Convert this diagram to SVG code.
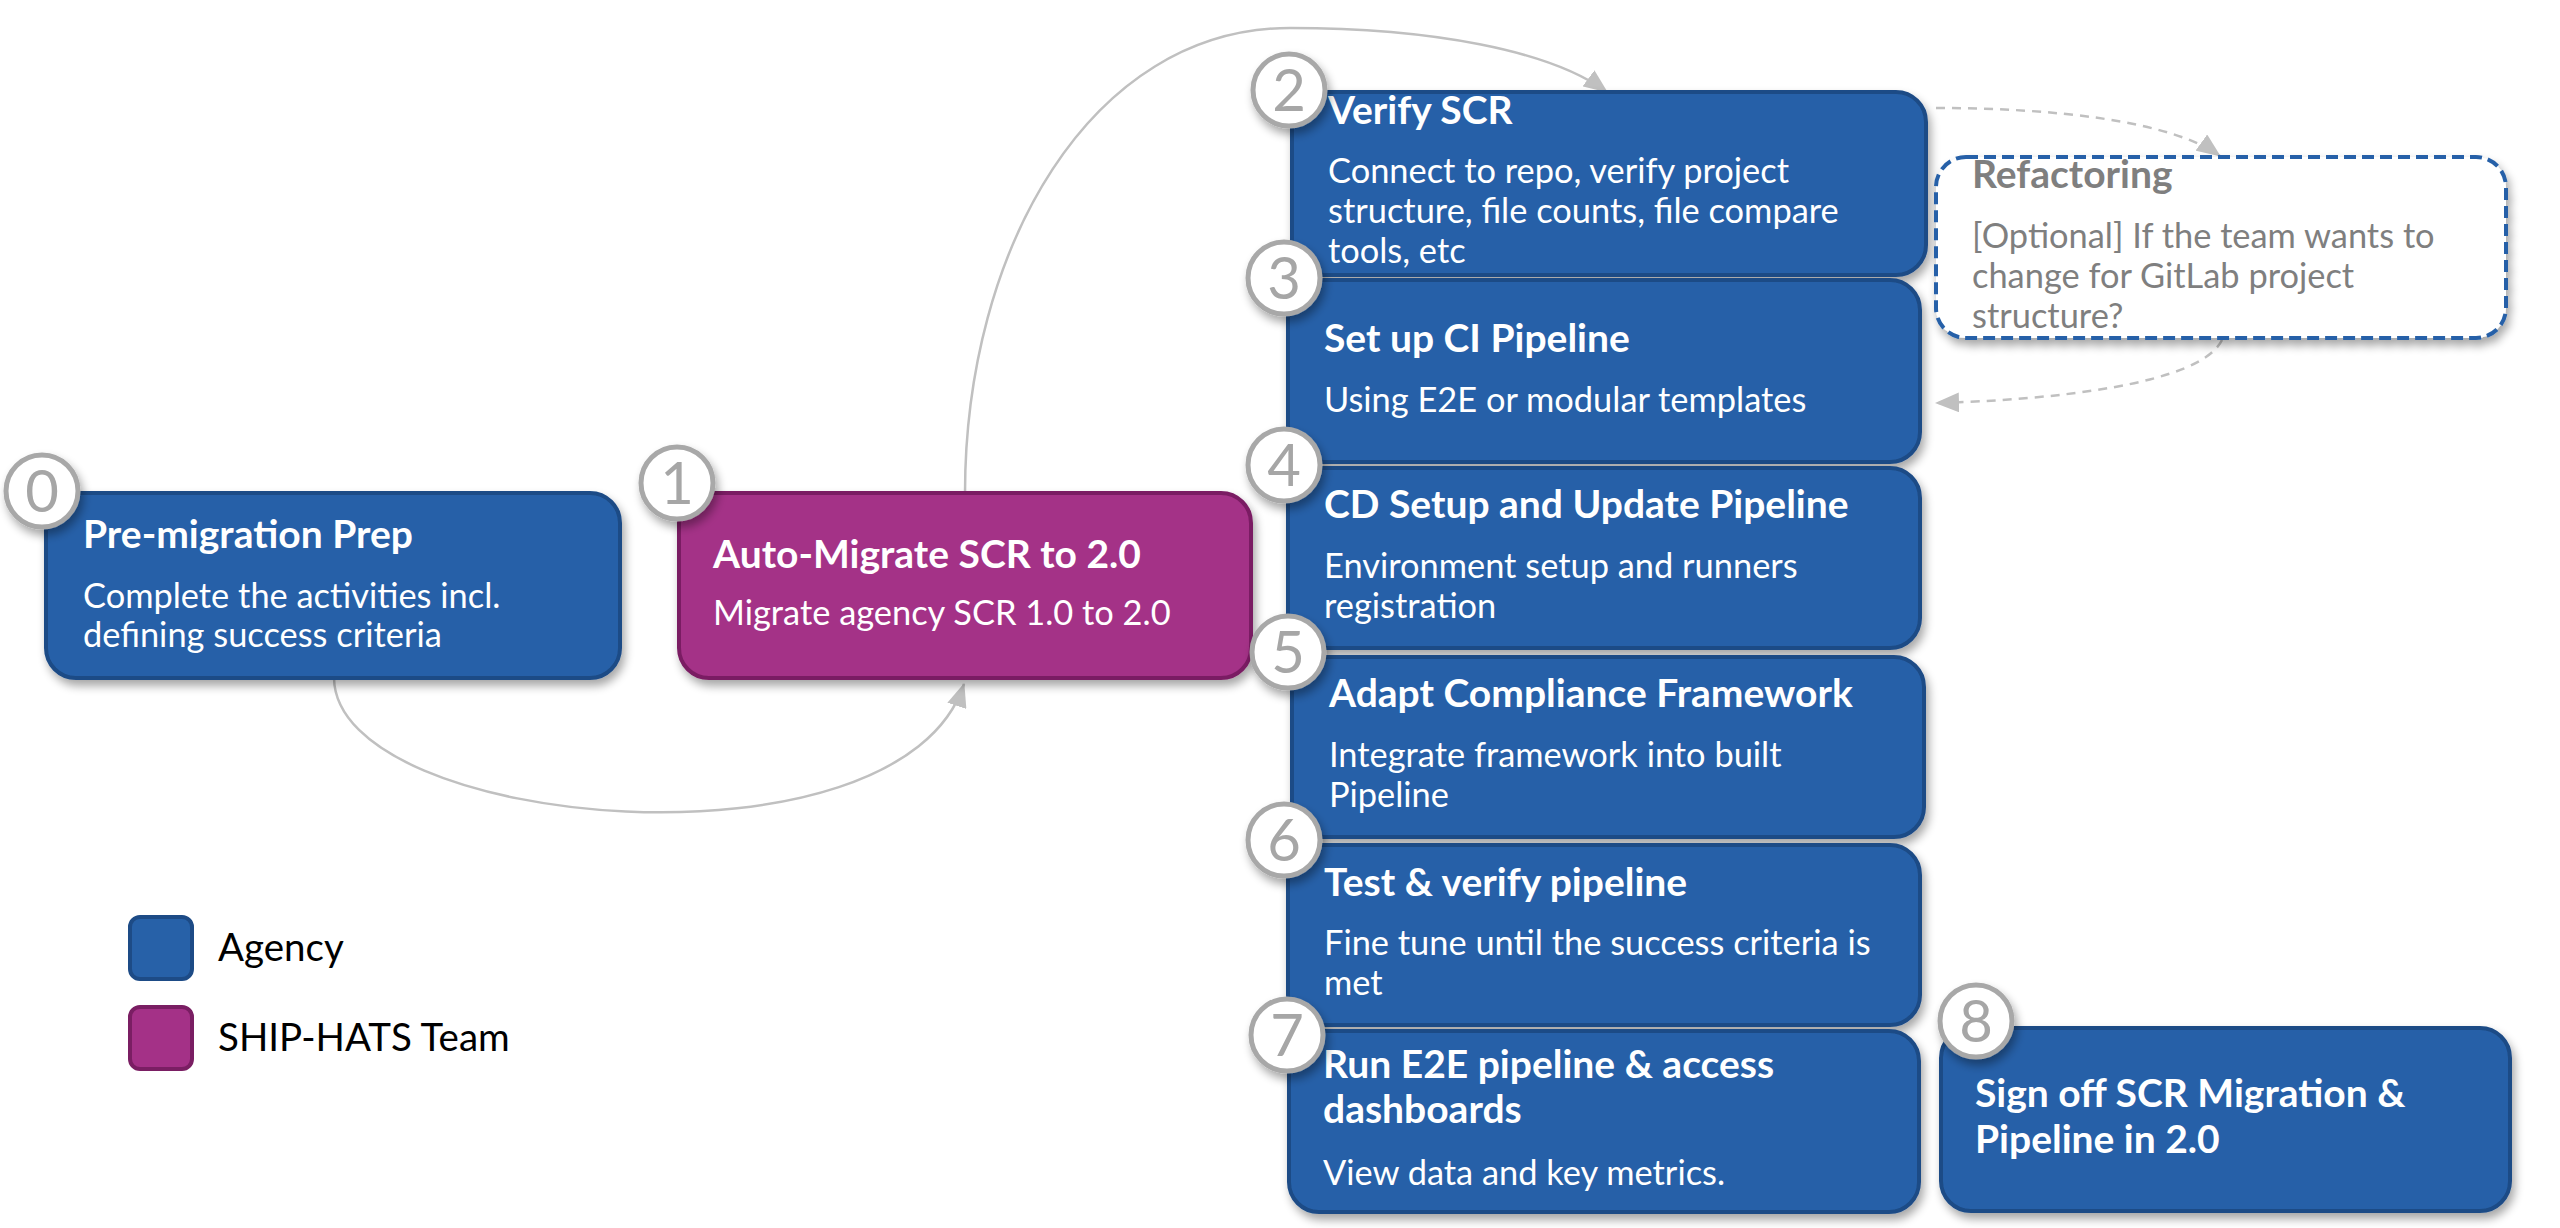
<svg xmlns="http://www.w3.org/2000/svg" width="2560" height="1228" viewBox="0 0 2560 1228">
  <defs>
    <filter id="shadow" x="-10%" y="-10%" width="125%" height="130%">
      <feGaussianBlur in="SourceAlpha" stdDeviation="5"/>
      <feOffset dx="3" dy="6" result="b"/>
      <feComponentTransfer><feFuncA type="linear" slope="0.35"/></feComponentTransfer>
      <feMerge><feMergeNode/><feMergeNode in="SourceGraphic"/></feMerge>
    </filter>
    <marker id="arrow" viewBox="0 0 24 20" refX="23" refY="10" markerWidth="24" markerHeight="20" markerUnits="userSpaceOnUse" orient="auto">
      <path d="M0,0 L24,10 L0,20 Z" fill="#c0c0c0"/>
    </marker>
  </defs>
  <style>
    .agency { fill: #2761a8; stroke: #1d4b86; stroke-width: 4; }
    .ship { fill: #a43187; stroke: #7a1e63; stroke-width: 4; }
    .optional { fill: #ffffff; stroke: #2761a8; stroke-width: 4; stroke-dasharray: 12 6; }
    .title { font-family: Lato, "Liberation Sans", sans-serif; font-weight: 700; font-size: 39px; fill: #ffffff; }
    .body { font-family: Lato, "Liberation Sans", sans-serif; font-size: 34.4px; fill: #ffffff; }
    .grey { fill: #7f7f7f; }
    .badge circle { fill: #ffffff; stroke: #a8a8a8; stroke-width: 5; }
    .badge text { font-family: Lato, "Liberation Sans", sans-serif; font-size: 58px; fill: #a6a6a6; text-anchor: middle; }
    .link { fill: none; stroke: #c0c0c0; stroke-width: 2.5; }
    .dashed { stroke-dasharray: 9 7; }
    .legend { font-family: Lato, "Liberation Sans", sans-serif; font-size: 38.5px; fill: #000000; }
  </style>
  <rect width="2560" height="1228" fill="#ffffff"/>

  <!-- connectors -->
  <g id="connectors">
    <path class="link" d="M334,678 C336,830 900,880 964,684" marker-end="url(#arrow)"/>
    <path class="link" d="M965,493 C965,250 1090,28 1290,28 C1430,28 1550,50 1607,92" marker-end="url(#arrow)"/>
    <path class="link dashed" d="M1936,108 C2050,108 2170,120 2220,156" marker-end="url(#arrow)"/>
    <path class="link dashed" d="M2222,340 C2200,385 2050,400 1936,403" marker-end="url(#arrow)"/>
  </g>

  <!-- step 0 -->
  <g id="step0">
    <rect class="agency" x="46" y="493" width="574" height="185" rx="30" filter="url(#shadow)"/>
    <text class="title" x="83" y="548">Pre-migration Prep</text>
    <text class="body" x="83" y="608">Complete the activities incl.</text>
    <text class="body" x="83" y="647">defining success criteria</text>
  </g>

  <!-- step 1 -->
  <g id="step1">
    <rect class="ship" x="679" y="493" width="572" height="185" rx="30" filter="url(#shadow)"/>
    <text class="title" x="713" y="568">Auto-Migrate SCR to 2.0</text>
    <text class="body" x="713" y="625">Migrate agency SCR 1.0 to 2.0</text>
  </g>

  <!-- step 2 -->
  <g id="step2">
    <rect class="agency" x="1292" y="92" width="634" height="183" rx="30" filter="url(#shadow)"/>
    <text class="title" x="1328" y="124">Verify SCR</text>
    <text class="body" x="1328" y="183">Connect to repo, verify project</text>
    <text class="body" x="1328" y="223">structure, file counts, file compare</text>
    <text class="body" x="1328" y="263">tools, etc</text>
  </g>

  <!-- step 3 -->
  <g id="step3">
    <rect class="agency" x="1288" y="280" width="632" height="182" rx="30" filter="url(#shadow)"/>
    <text class="title" x="1324" y="352">Set up CI Pipeline</text>
    <text class="body" x="1324" y="412">Using E2E or modular templates</text>
  </g>

  <!-- step 4 -->
  <g id="step4">
    <rect class="agency" x="1288" y="468" width="632" height="180" rx="30" filter="url(#shadow)"/>
    <text class="title" x="1324" y="518">CD Setup and Update Pipeline</text>
    <text class="body" x="1324" y="578">Environment setup and runners</text>
    <text class="body" x="1324" y="618">registration</text>
  </g>

  <!-- step 5 -->
  <g id="step5">
    <rect class="agency" x="1292" y="657" width="632" height="180" rx="30" filter="url(#shadow)"/>
    <text class="title" x="1329" y="707">Adapt Compliance Framework</text>
    <text class="body" x="1329" y="767">Integrate framework into built</text>
    <text class="body" x="1329" y="807">Pipeline</text>
  </g>

  <!-- step 6 -->
  <g id="step6">
    <rect class="agency" x="1288" y="845" width="632" height="180" rx="30" filter="url(#shadow)"/>
    <text class="title" x="1324" y="896">Test &amp; verify pipeline</text>
    <text class="body" x="1324" y="955">Fine tune until the success criteria is</text>
    <text class="body" x="1324" y="995">met</text>
  </g>

  <!-- step 7 -->
  <g id="step7">
    <rect class="agency" x="1289" y="1031" width="630" height="181" rx="30" filter="url(#shadow)"/>
    <text class="title" x="1323" y="1078">Run E2E pipeline &amp; access</text>
    <text class="title" x="1323" y="1123">dashboards</text>
    <text class="body" x="1323" y="1185">View data and key metrics.</text>
  </g>

  <!-- step 8 -->
  <g id="step8">
    <rect class="agency" x="1941" y="1028" width="569" height="183" rx="30" filter="url(#shadow)"/>
    <text class="title" x="1975" y="1107">Sign off SCR Migration &amp;</text>
    <text class="title" x="1975" y="1153">Pipeline in 2.0</text>
  </g>

  <!-- optional refactoring -->
  <g id="refactoring">
    <rect class="optional" x="1936" y="157" width="570" height="181" rx="30" filter="url(#shadow)"/>
    <text class="title grey" x="1972" y="188">Refactoring</text>
    <text class="body grey" x="1972" y="248">[Optional] If the team wants to</text>
    <text class="body grey" x="1972" y="288">change for GitLab project</text>
    <text class="body grey" x="1972" y="328">structure?</text>
  </g>

  <!-- step number badges -->
  <g id="badges" filter="url(#shadow)">
    <g class="badge"><circle cx="42" cy="491" r="36"/><text x="42" y="512">0</text></g>
    <g class="badge"><circle cx="677" cy="483" r="36"/><text x="677" y="504">1</text></g>
    <g class="badge"><circle cx="1289" cy="90" r="36"/><text x="1289" y="111">2</text></g>
    <g class="badge"><circle cx="1284" cy="278" r="36"/><text x="1284" y="299">3</text></g>
    <g class="badge"><circle cx="1284" cy="465" r="36"/><text x="1284" y="486">4</text></g>
    <g class="badge"><circle cx="1288" cy="652" r="36"/><text x="1288" y="673">5</text></g>
    <g class="badge"><circle cx="1284" cy="840" r="36"/><text x="1284" y="861">6</text></g>
    <g class="badge"><circle cx="1287" cy="1035" r="36"/><text x="1287" y="1056">7</text></g>
    <g class="badge"><circle cx="1976" cy="1021" r="36"/><text x="1976" y="1042">8</text></g>
  </g>

  <!-- legend -->
  <g id="legend">
    <rect class="agency" x="130" y="917" width="62" height="62" rx="10"/>
    <text class="legend" x="218" y="961">Agency</text>
    <rect class="ship" x="130" y="1007" width="62" height="62" rx="10"/>
    <text class="legend" x="218" y="1051">SHIP-HATS Team</text>
  </g>
</svg>
